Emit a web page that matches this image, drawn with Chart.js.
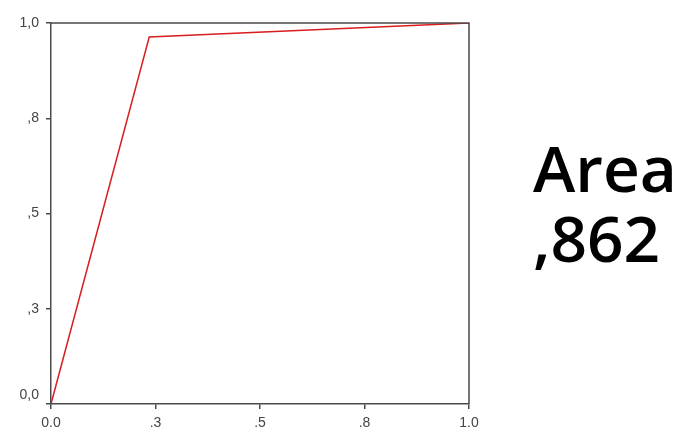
<!DOCTYPE html>
<html>
<head>
<meta charset="UTF-8">
<title>ROC Curve</title>
<style type="text/css">
  body { margin: 0; background: #fff; }
  #chart-container { position: relative; width: 679px; height: 430px; }
  #area-label {
    position: absolute; left: 533px; top: 133px;
    font-family: "Open Sans", sans-serif; font-size: 64px; line-height: 70px;
    color: #000; font-weight: 600;
  }
</style>
<script type="text/javascript" src="https://cdn.jsdelivr.net/npm/chart.js@4.4.0/dist/chart.umd.min.js"></script>
</head>
<body>
<div id="chart-container">
  <canvas id="mycanvas" width="679" height="430"></canvas>
  <div id="area-label">Area<br>,862</div>
</div>
<script>
// ROC curve points (1 - specificity, sensitivity)
var fpr = [0, 0.235, 1];
var tpr = [0, 0.963, 1];
var tickValues = [0, 0.25, 0.5, 0.75, 1];
var xTickLabels = ['0.0', '.3', '.5', '.8', '1.0'];
var yTickLabels = ['0,0', ',3', ',5', ',8', '1,0'];
var areaText = ',862';

var points = [];
for (var i = 0; i < fpr.length; i++) {
  points.push({x: fpr[i], y: tpr[i]});
}

// draw the top and right sides of the frame
var framePlugin = {
  id: 'frame',
  afterDraw: function(chart) {
    var a = chart.chartArea, c = chart.ctx;
    c.save();
    c.strokeStyle = '#4a4a4a';
    c.lineWidth = 1.5;
    c.beginPath();
    c.moveTo(a.left, a.top);
    c.lineTo(a.right, a.top);
    c.lineTo(a.right, a.bottom);
    c.stroke();
    c.restore();
  }
};

function setTicks(scale) {
  scale.ticks = tickValues.map(function(v) { return {value: v}; });
}

var ctx = document.getElementById('mycanvas');
new Chart(ctx, {
  type: 'scatter',
  data: {
    datasets: [{
      data: points,
      showLine: true,
      borderColor: '#d81e1e',
      borderWidth: 1.5,
      pointRadius: 0,
      tension: 0
    }]
  },
  options: {
    responsive: false,
    animation: false,
    layout: { padding: { left: 0, right: 210, top: 23, bottom: 0 } },
    plugins: { legend: { display: false }, tooltip: { enabled: false } },
    scales: {
      x: {
        type: 'linear', min: 0, max: 1,
        afterBuildTicks: setTicks,
        afterFit: function(s) { s.height = 26; },
        grid: { drawOnChartArea: false, drawTicks: true, tickLength: 5, color: '#4a4a4a', lineWidth: 1.5 },
        border: { display: true, color: '#4a4a4a', width: 1.5 },
        ticks: {
          padding: 6, color: '#444',
          font: { family: 'Arial, "Liberation Sans", sans-serif', size: 14 },
          maxRotation: 0, autoSkip: false,
          callback: function(v, i) { return xTickLabels[i]; }
        }
      },
      y: {
        type: 'linear', min: 0, max: 1,
        afterBuildTicks: setTicks,
        afterFit: function(s) { s.width = 51; },
        grid: { drawOnChartArea: false, drawTicks: true, tickLength: 5, color: '#4a4a4a', lineWidth: 1.5 },
        border: { display: true, color: '#4a4a4a', width: 1.5 },
        ticks: {
          padding: 7, color: '#444',
          font: { family: 'Arial, "Liberation Sans", sans-serif', size: 14 },
          autoSkip: false,
          // the bottom label sits a little above its tick, as in the source
          callback: function(v, i) { return i === 0 ? [yTickLabels[i], ''] : yTickLabels[i]; }
        }
      }
    }
  },
  plugins: [framePlugin]
});
document.getElementById('area-label').innerHTML = 'Area<br>' + areaText;
</script>
</body>
</html>
